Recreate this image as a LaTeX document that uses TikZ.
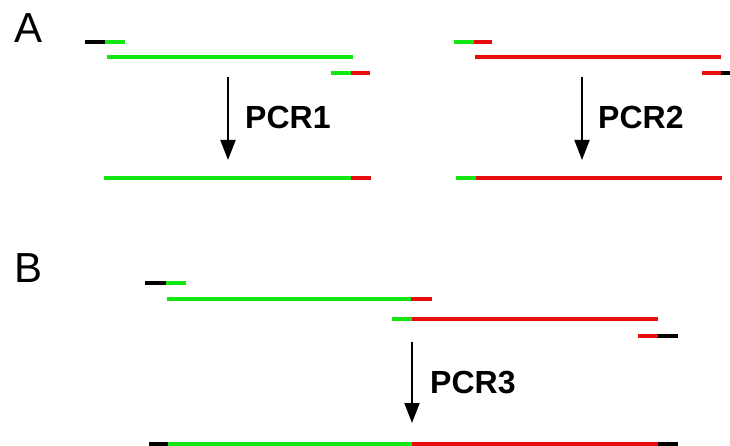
\documentclass[tikz,border=0pt]{standalone}
\usepackage{fontspec}
\setmainfont{Liberation Sans}
\usetikzlibrary{arrows.meta}
\definecolor{dnagreen}{RGB}{20,230,20}
\definecolor{dnared}{RGB}{232,12,12}
\begin{document}
\begin{tikzpicture}[x=1pt,y=-1pt,
  seg/.style={line width=4pt,line cap=butt},
  g/.style={seg,draw=dnagreen},
  r/.style={seg,draw=dnared},
  k/.style={seg,draw=black},
  pcrarrow/.style={line width=2pt,-{Triangle[width=15pt,length=20pt]}},
  pcrlabel/.style={font=\fontsize{32}{38}\selectfont\bfseries,inner sep=0pt,anchor=west},
  panel/.style={font=\fontsize{42}{50}\selectfont,inner sep=0pt,anchor=west}]
\useasboundingbox (0,0) rectangle (730,446);
% panel labels
\node[panel] (A) at (14,28) {A};
\node[panel] (B) at (14,268) {B};
% ---- Panel A, left
\draw[k] (85,42) -- (105,42);
\draw[g] (105,42) -- (125,42);
\draw[g] (107,57) -- (353,57);
\draw[g] (331,73) -- (351,73);
\draw[r] (351,73) -- (370,73);
\coordinate (a1s) at (228,77);
\coordinate (a1e) at (228,160);
\draw[pcrarrow] (a1s) -- (a1e);
\node[pcrlabel] (p1) at (245,117) {PCR1};
\draw[g] (104,178) -- (351,178);
\draw[r] (351,178) -- (371,178);
% ---- Panel A, right
\draw[g] (454,42) -- (474,42);
\draw[r] (474,42) -- (492,42);
\draw[r] (475,57) -- (721,57);
\draw[r] (702,73) -- (721,73);
\draw[k] (721,73) -- (731,73);
\coordinate (a2s) at (582,77);
\coordinate (a2e) at (582,160);
\draw[pcrarrow] (a2s) -- (a2e);
\node[pcrlabel] (p2) at (598,117) {PCR2};
\draw[g] (456,178) -- (476,178);
\draw[r] (476,178) -- (722,178);
% ---- Panel B
\draw[k] (145,283) -- (166,283);
\draw[g] (166,283) -- (186,283);
\draw[g] (167,299) -- (411,299);
\draw[r] (411,299) -- (432,299);
\draw[g] (392,319) -- (412,319);
\draw[r] (412,319) -- (658,319);
\draw[r] (638,336) -- (658,336);
\draw[k] (658,336) -- (678,336);
\coordinate (a3s) at (412,342);
\coordinate (a3e) at (412,423);
\draw[pcrarrow] (a3s) -- (a3e);
\node[pcrlabel] (p3) at (430,383) {PCR3};
\draw[k] (149,444) -- (168,444);
\draw[g] (168,444) -- (412,444);
\draw[r] (412,444) -- (658,444);
\draw[k] (658,444) -- (678,444);
\end{tikzpicture}
\end{document}
